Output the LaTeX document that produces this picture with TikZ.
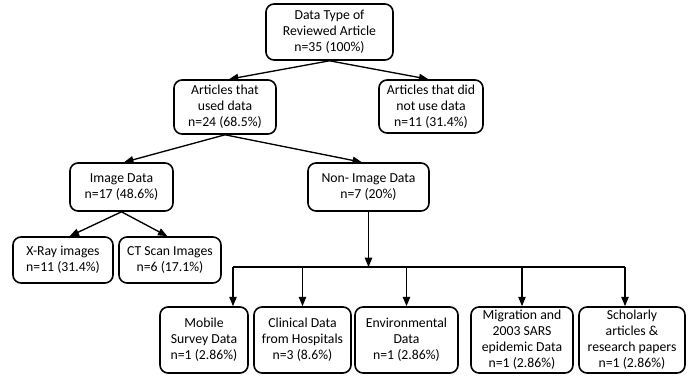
\documentclass[tikz,border=0pt]{standalone}
\usepackage{fontspec}
\setmainfont{Carlito}
\usetikzlibrary{arrows.meta,calc}
\begin{document}
\begin{tikzpicture}[x=0.75pt,y=-0.75pt,
  box/.style={draw=black,line width=1.2pt,rounded corners=6pt,fill=white,align=center,
    inner sep=1pt,font=\fontsize{10.3}{12}\selectfont},
  arr/.style={line width=1pt,-{Triangle[length=7pt,width=5.5pt]}},
  ln/.style={line width=1pt}]
\useasboundingbox[fill=white] (0,0) rectangle (692,389);
\node[box,minimum width=127*0.75pt,minimum height=56*0.75pt] (root) at (329.5,32) {Data Type of\\Reviewed Article\\n=35 (100\%)};
\node[box,minimum width=102*0.75pt,minimum height=54*0.75pt] (used) at (225,107) {Articles that\\used data\\n=24 (68.5\%)};
\node[box,minimum width=104*0.75pt,minimum height=53*0.75pt] (notused) at (431,106.5) {Articles that did\\not use data\\n=11 (31.4\%)};
\node[box,minimum width=103*0.75pt,minimum height=48*0.75pt] (image) at (121.5,187) {Image Data\\n=17 (48.6\%)};
\node[box,minimum width=121*0.75pt,minimum height=48*0.75pt] (nonimage) at (368.5,187) {Non- Image Data\\n=7 (20\%)};
\node[box,minimum width=100*0.75pt,minimum height=46*0.75pt] (xray) at (63,260) {X-Ray images\\n=11 (31.4\%)};
\node[box,minimum width=102*0.75pt,minimum height=46*0.75pt] (ct) at (170,260) {CT Scan Images\\n=6 (17.1\%)};
\node[box,minimum width=88*0.75pt,minimum height=66*0.75pt] (mobile) at (204,340) {Mobile\\Survey Data\\n=1 (2.86\%)};
\node[box,minimum width=97*0.75pt,minimum height=66*0.75pt] (clinical) at (302.5,340) {Clinical Data\\from Hospitals\\n=3 (8.6\%)};
\node[box,minimum width=103*0.75pt,minimum height=66*0.75pt] (env) at (406.5,340) {Environmental\\Data\\n=1 (2.86\%)};
\node[box,minimum width=102*0.75pt,minimum height=66*0.75pt] (migr) at (522,340) {Migration and\\2003 SARS\\epidemic Data\\n=1 (2.86\%)};
\node[box,minimum width=106*0.75pt,minimum height=66*0.75pt] (schol) at (632,340) {Scholarly\\articles \&\\research papers\\n=1 (2.86\%)};
% connectors
\draw[arr] (root.south) -- ([xshift=3pt]used.north);
\draw[arr] (root.south) -- ([xshift=-2pt]notused.north);
\draw[arr] (used.south) -- ([xshift=2pt]image.north);
\draw[arr] (used.south) -- ([xshift=-5pt]nonimage.north);
\draw[arr] (image.south) -- ([xshift=5pt]xray.north);
\draw[arr] (image.south) -- ([xshift=-2pt]ct.north);
\coordinate (bus) at (368.5,267);
\coordinate (b1) at (233,267);
\coordinate (b5) at (625,267);
\draw[arr] (nonimage.south) -- (bus);
\draw[ln] (b1) -- (b5);
\draw[arr] (b1) -- (b1 |- mobile.north);
\draw[arr] (clinical.north |- bus) -- (clinical.north);
\draw[arr] (env.north |- bus) -- (env.north);
\draw[arr] (migr.north |- bus) -- (migr.north);
\draw[arr] (b5) -- (b5 |- schol.north);
\end{tikzpicture}
\end{document}
